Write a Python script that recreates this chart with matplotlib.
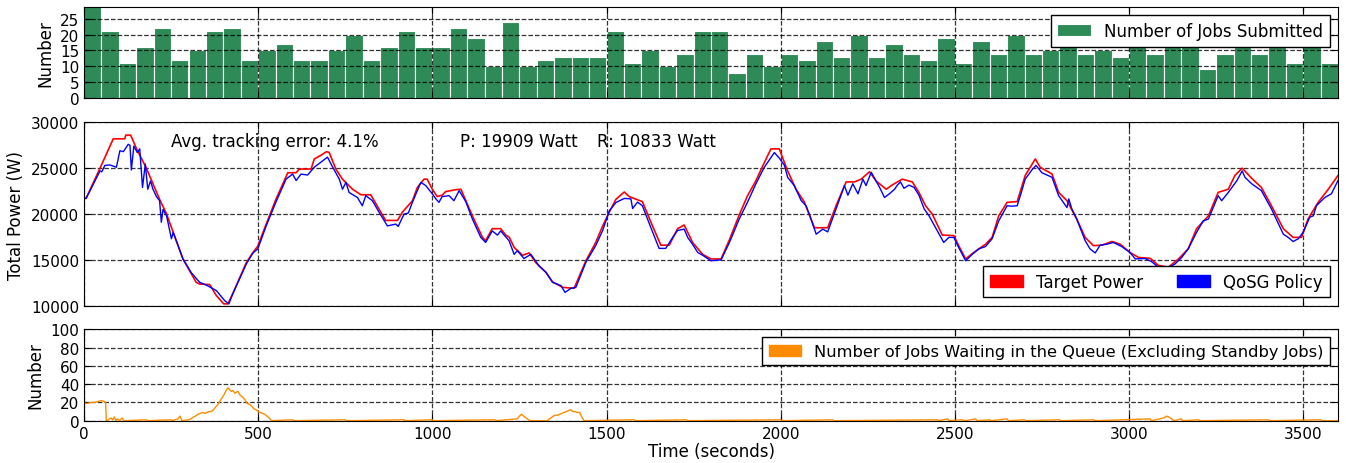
import matplotlib
matplotlib.use('Agg')
import matplotlib.pyplot as plt
import matplotlib.patches as mpatches
import numpy as np

# --- jobs submitted per 50 s bin ---
bin_width = 50
jobs_submitted = [29, 21, 11, 16, 22, 12, 15, 21, 22, 12,
                  15, 17, 12, 12, 15, 20, 12, 16, 21, 16,
                  16, 22, 19, 10, 24, 10, 12, 13, 13, 13,
                  21, 11, 15, 10, 14, 21, 21, 8, 14, 10,
                  14, 12, 18, 13, 20, 13, 17, 14, 12, 19,
                  11, 18, 14, 20, 14, 15, 17, 14, 15, 13,
                  17, 14, 16, 17, 9, 14, 16, 14, 16, 11,
                  17, 11]

# --- target power (W) ---
target_t = [0, 6, 46, 84, 117, 120, 134, 151, 179, 217, 237, 284, 322, 332, 361, 380,
            401, 413, 427, 466, 485, 499, 523, 551, 585, 609, 618, 652, 661, 680, 696,
            704, 723, 742, 771, 795, 823, 847, 866, 900, 914, 943, 957, 976, 985, 1000,
            1014, 1029, 1038, 1067, 1082, 1091, 1115, 1144, 1153, 1172, 1196, 1211, 1221,
            1235, 1259, 1278, 1297, 1326, 1345, 1374, 1407, 1441, 1469, 1489, 1508, 1527,
            1551, 1565, 1603, 1632, 1656, 1680, 1704, 1723, 1747, 1776, 1800, 1829, 1853,
            1881, 1905, 1929, 1953, 1972, 1996, 2020, 2044, 2068, 2097, 2135, 2159, 2188,
            2212, 2231, 2255, 2274, 2303, 2320, 2349, 2378, 2397, 2416, 2435, 2464, 2497,
            2511, 2531, 2554, 2588, 2607, 2626, 2650, 2679, 2702, 2722, 2731, 2745, 2779,
            2798, 2822, 2850, 2874, 2898, 2922, 2951, 2975, 3003, 3027, 3061, 3084, 3113,
            3142, 3170, 3194, 3228, 3256, 3285, 3304, 3325, 3352, 3380, 3409, 3443, 3471,
            3495, 3514, 3543, 3572, 3600]
target_w = [21700, 21710, 25000, 28200, 28200, 28600, 28600, 27100, 25000, 21600, 20000,
            15100, 12550, 12360, 12300, 11100, 10200, 10200, 11300, 14700, 15800, 16500,
            18900, 21600, 24500, 24500, 24900, 24900, 26000, 26400, 26800, 26700, 24900,
            23800, 22700, 22100, 22100, 20550, 19300, 19300, 20200, 21450, 22900, 23800,
            23800, 22700, 21900, 22070, 22440, 22650, 22700, 21900, 19800, 17450, 17100,
            18400, 18400, 17700, 17450, 16350, 15500, 15750, 14700, 13640, 12600, 12000,
            11900, 14900, 16900, 18700, 20200, 21600, 22400, 21900, 21350, 18700, 16600,
            16600, 18400, 18800, 16900, 15600, 15100, 15100, 17200, 19900, 22000, 23640,
            25600, 27100, 27100, 24700, 22700, 21300, 18500, 18500, 20900, 23500, 23500,
            23800, 24600, 23600, 22700, 23160, 23800, 23500, 22350, 20900, 20000, 17700,
            17650, 16550, 15100, 15800, 16700, 17450, 19800, 21270, 21350, 24200, 25450,
            26000, 25100, 24360, 22360, 21450, 19450, 17450, 16550, 16600, 17000, 16700,
            15800, 15270, 15160, 14400, 14200, 15100, 16200, 18400, 19800, 22360, 22700,
            24200, 25000, 23900, 22900, 20900, 18400, 17450, 17450, 19450, 21270, 22700,
            24200]

# --- QoSG policy power (W) ---
qosg_t = [0, 6, 46, 51, 60, 74, 93, 103, 113, 127, 132, 136, 143, 153, 160, 168, 176,
          183, 191, 198, 208, 217, 222, 227, 237, 251, 256, 270, 284, 308, 332, 351, 380,
          404, 416, 427, 466, 485, 499, 523, 551, 580, 599, 609, 623, 642, 661, 680, 699,
          714, 733, 742, 752, 761, 785, 799, 809, 828, 847, 871, 895, 902, 919, 931, 943,
          967, 981, 1000, 1010, 1019, 1028, 1048, 1062, 1077, 1096, 1115, 1139, 1153,
          1172, 1187, 1196, 1220, 1235, 1244, 1263, 1283, 1306, 1326, 1345, 1369, 1381,
          1398, 1412, 1441, 1469, 1489, 1508, 1527, 1551, 1570, 1575, 1589, 1603, 1627,
          1651, 1670, 1690, 1704, 1723, 1733, 1747, 1762, 1776, 1800, 1829, 1853, 1881,
          1905, 1929, 1953, 1982, 1996, 2011, 2020, 2039, 2059, 2073, 2087, 2102, 2121,
          2135, 2159, 2183, 2193, 2207, 2222, 2236, 2245, 2260, 2284, 2298, 2312, 2327,
          2335, 2344, 2354, 2368, 2383, 2397, 2412, 2426, 2449, 2468, 2483, 2497, 2511,
          2531, 2550, 2569, 2588, 2607, 2626, 2650, 2664, 2679, 2688, 2702, 2722, 2733,
          2750, 2779, 2798, 2822, 2827, 2836, 2850, 2874, 2888, 2903, 2917, 2936, 2955,
          2979, 3003, 3018, 3046, 3065, 3084, 3108, 3132, 3151, 3170, 3194, 3213, 3228,
          3256, 3266, 3285, 3309, 3325, 3333, 3352, 3380, 3409, 3443, 3457, 3471, 3486,
          3500, 3519, 3529, 3538, 3562, 3581, 3600]
qosg_w = [21700, 21700, 24700, 24600, 25300, 25350, 25100, 26900, 26800, 27600, 27500,
          24800, 27400, 26700, 27100, 22900, 25450, 22700, 23600, 22700, 21900, 21450,
          19100, 20500, 19800, 17300, 18000, 16550, 15100, 13600, 12550, 12250, 11650,
          10550, 10200, 11300, 14550, 15750, 16200, 18700, 21300, 23800, 24350, 23650,
          24350, 24250, 25100, 25650, 26200, 25100, 23800, 22700, 23450, 22350, 21800,
          20900, 22000, 21450, 20200, 18700, 18900, 18650, 20000, 20100, 21300, 23450,
          23100, 22200, 21650, 21270, 21900, 22000, 21450, 22550, 21350, 19450, 17450,
          16900, 18150, 17700, 18150, 17100, 15600, 16000, 15150, 15600, 14350, 13650,
          12550, 12200, 11450, 11900, 12000, 14750, 16550, 18200, 20350, 21250, 21700,
          21650, 20600, 21300, 20900, 18550, 16250, 16250, 17450, 18200, 18350, 17450,
          16700, 15800, 15500, 14900, 15000, 16900, 19450, 21300, 23300, 25100, 26700,
          26100, 25300, 24000, 23100, 21450, 20900, 19450, 17800, 18350, 18050, 20550,
          23100, 22050, 23300, 22200, 23800, 23100, 24550, 22900, 21800, 22200, 22700,
          23150, 23500, 22800, 23150, 22900, 22050, 20550, 19800, 18200, 16900, 17450,
          17450, 16350, 14900, 15600, 16200, 16450, 17300, 19250, 20900, 20850, 20900,
          22000, 23800, 24850, 25300, 24500, 24000, 22000, 20700, 21650, 20550, 19450,
          17100, 16200, 15750, 16600, 16700, 16900, 16450, 15800, 15100, 15150, 14800,
          14200, 14050, 14550, 15250, 16200, 18000, 19250, 19450, 22000, 21450, 22350,
          23600, 24700, 24000, 23300, 22550, 20550, 17800, 17450, 17000, 17300, 18000,
          19650, 19800, 20900, 21800, 22200, 23650]

# --- jobs waiting in queue ---
queue_t = [0, 10, 20, 30, 40, 50, 58, 62, 64, 70, 77, 82, 87, 92, 96, 102, 109, 114,
           180, 182, 250, 252, 270, 276, 281, 300, 307, 314, 320, 327, 334, 340, 347,
           353, 360, 365, 372, 378, 385, 391, 398, 404, 408, 413, 418, 423, 428, 433,
           436, 442, 448, 455, 462, 468, 475, 481, 488, 494, 500, 506, 512, 519, 525,
           532, 538, 600, 602, 750, 752, 920, 922, 1000, 1002, 1180, 1182, 1244, 1250,
           1256, 1262, 1269, 1276, 1282, 1330, 1340, 1347, 1353, 1360, 1365, 1372, 1378,
           1385, 1391, 1397, 1403, 1410, 1416, 1423, 1429, 1436, 1580, 1582, 1730, 1732,
           2000, 2002, 2150, 2152, 2450, 2452, 2480, 2484, 2520, 2530, 2560, 2564, 2600,
           2604, 2650, 2654, 2700, 2704, 2800, 2804, 2900, 2904, 3060, 3064, 3100, 3108,
           3115, 3122, 3130, 3150, 3154, 3200, 3204, 3400, 3404, 3550, 3554, 3600]
queue_n = [19, 19, 20, 20, 21, 22, 21, 20, 0, 1, 3, 1, 4, 0, 2, 0, 3, 0,
           1, 0, 1, 0, 2, 5, 0, 1, 2, 4, 5, 7, 8, 9, 8,
           9, 10, 10, 12, 15, 18, 22, 26, 30, 33, 36, 34, 32, 33, 30,
           31, 32, 28, 26, 23, 19, 18, 16, 13, 12, 10, 9, 8, 7, 5,
           3, 0, 1, 0, 1, 0, 1, 0, 1, 0, 1, 0, 2, 5,
           7, 5, 3, 1, 0, 0, 3, 5, 6, 6, 7, 8, 9,
           10, 11, 12, 10, 10, 9, 9, 4, 0, 1, 0, 1, 0,
           1, 0, 1, 0, 1, 0, 2, 0, 1, 0, 2, 0, 1,
           0, 2, 0, 1, 0, 1, 0, 1, 0, 2, 0, 3, 5,
           4, 2, 0, 2, 0, 1, 0, 1, 0, 1, 0, 0]

FS = 12      # labels, annotations, legends
TICK_FS = 11

plt.rcParams['font.size'] = FS

fig = plt.figure(figsize=(13.46, 4.64), dpi=100)
W, H = 1346.0, 464.0


def add_axes(x0, y0, x1, y1):
    return fig.add_axes([x0 / W, 1 - y1 / H, (x1 - x0) / W, (y1 - y0) / H])


ax1 = add_axes(84, 8, 1338, 99)
ax2 = add_axes(84, 123.3, 1338, 306.7)
ax3 = add_axes(84, 330.3, 1338, 421.7)

for ax in (ax1, ax2, ax3):
    ax.set_xlim(0, 3600)
    ax.set_xticks(np.arange(0, 3600, 500))
    ax.grid(True, color='k', linestyle='--', linewidth=0.9, alpha=0.8)
    ax.tick_params(direction='in', top=True, right=True, length=5, labelsize=TICK_FS)

# top: submitted jobs
bins = np.arange(len(jobs_submitted)) * bin_width
ax1.bar(bins, jobs_submitted, width=bin_width, align='edge', color='#2e8b57',
        edgecolor='white', linewidth=0.8, label='Number of Jobs Submitted')
ax1.set_axisbelow(False)
ax1.set_ylim(0, 28.7)
ax1.set_yticks(np.arange(0, 26, 5))
ax1.set_xticklabels([])
ax1.set_ylabel('Number', fontsize=FS)
ax1.legend(loc='upper right', fancybox=False, edgecolor='k', framealpha=1,
           fontsize=FS, borderaxespad=0.5)

# middle: power tracking
ax2.plot(target_t, target_w, color='red', linewidth=1.2)
ax2.plot(qosg_t, qosg_w, color='blue', linewidth=1.0)
ax2.set_ylim(10000, 30000)
ax2.set_yticks(np.arange(10000, 30001, 5000))
ax2.set_xticklabels([])
ax2.set_ylabel('Total Power (W)', fontsize=FS)
ax2.text(250, 28000, 'Avg. tracking error: 4.1%', fontsize=FS, va='center')
ax2.text(1080, 28000, 'P: 19909 Watt', fontsize=FS, va='center')
ax2.text(1472, 28000, 'R: 10833 Watt', fontsize=FS, va='center')
handles = [mpatches.Patch(color='red', label='Target Power'),
           mpatches.Patch(color='blue', label='QoSG Policy')]
ax2.legend(handles=handles, loc='lower right', ncol=2, fancybox=False,
           edgecolor='k', framealpha=1, fontsize=FS, borderaxespad=0.5,
           columnspacing=2.0)

# bottom: queue
ax3.plot(queue_t, queue_n, color='darkorange', linewidth=1.0)
ax3.set_ylim(0, 100)
ax3.set_yticks(np.arange(0, 101, 20))
ax3.set_ylabel('Number', fontsize=FS)
ax3.set_xlabel('Time (seconds)', fontsize=FS, labelpad=1)
ax3.legend(handles=[mpatches.Patch(color='darkorange',
                                   label='Number of Jobs Waiting in the Queue (Excluding Standby Jobs)')],
           loc='upper right', fancybox=False, edgecolor='k', framealpha=1,
           fontsize=11.7, borderaxespad=0.5)

fig.savefig('out.png', dpi=100)
